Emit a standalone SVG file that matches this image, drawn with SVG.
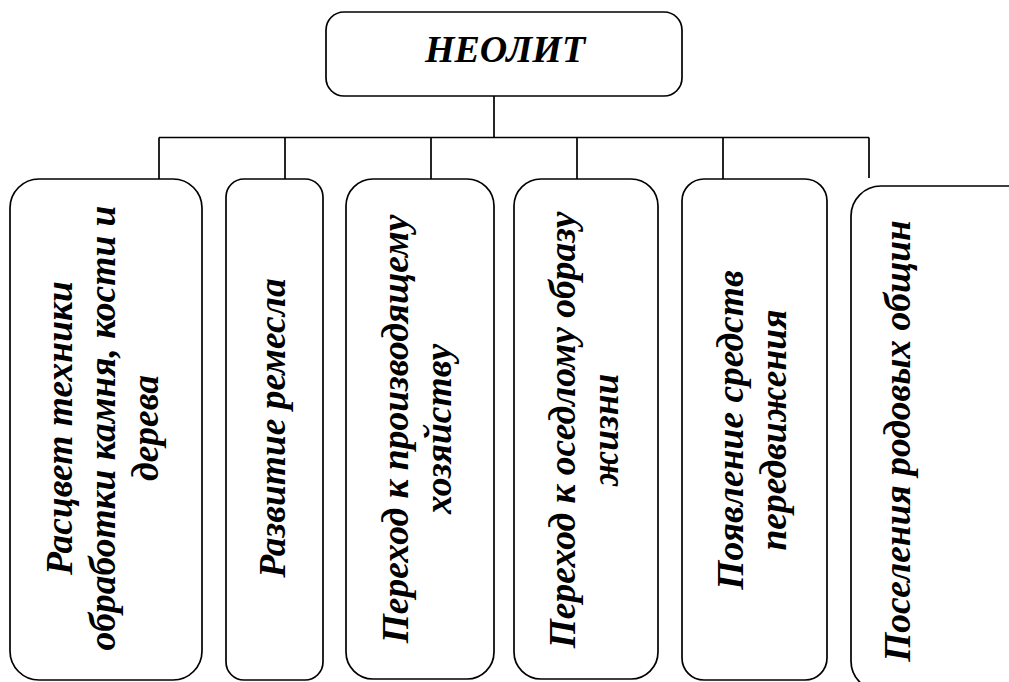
<svg xmlns="http://www.w3.org/2000/svg" width="1009" height="682" viewBox="0 0 1009 682">
<style>
.box{fill:#fff;stroke:#000;stroke-width:1.7}
.t{font-family:"Liberation Serif","Times New Roman",serif;font-weight:bold;font-style:italic;font-size:37.5px;fill:#000;text-anchor:middle}
.title{font-size:38px}
.c{stroke:#000;stroke-width:1.7;fill:none}
</style>
<rect width="1009" height="682" fill="#fff"/>
<g id="connectors">
<path class="c" d="M494 96V137.5M159 137.5H869M159 137.5V179M285 137.5V179M431 137.5V179M577 137.5V179M723 137.5V179M869 137.5V178"/>
</g>
<g id="root">
<rect class="box" x="326" y="12" width="356" height="84" rx="18"/>
<text class="t title" x="505" y="62">НЕОЛИТ</text>
</g>
<g id="n1">
<rect class="box" x="10" y="179" width="192" height="501" rx="29"/>
<text class="t" transform="translate(72,428) rotate(-90)"><tspan x="0" dy="0">Расцвет техники</tspan><tspan x="0" dy="43">обработки камня, кости и</tspan><tspan x="0" dy="43">дерева</tspan></text>
</g>
<g id="n2">
<rect class="box" x="226" y="179" width="97" height="501" rx="18"/>
<text class="t" transform="translate(285,428) rotate(-90)">Развитие ремесла</text>
</g>
<g id="n3">
<rect class="box" x="346" y="179" width="148" height="500" rx="27"/>
<text class="t" transform="translate(408,429) rotate(-90)"><tspan x="0" dy="0">Переход к производящему</tspan><tspan x="0" dy="43">хозяйству</tspan></text>
</g>
<g id="n4">
<rect class="box" x="514" y="179" width="144" height="500" rx="27"/>
<text class="t" transform="translate(575,430) rotate(-90)"><tspan x="0" dy="0">Переход к оседлому образу</tspan><tspan x="0" dy="43">жизни</tspan></text>
</g>
<g id="n5">
<rect class="box" x="682" y="179" width="145" height="501" rx="22"/>
<text class="t" transform="translate(743,430) rotate(-90)"><tspan x="0" dy="0">Появление средств</tspan><tspan x="0" dy="43">передвижения</tspan></text>
</g>
<g id="n6">
<rect class="box" x="851" y="186" width="190" height="505" rx="30"/>
<text class="t" transform="translate(910,441) rotate(-90)">Поселения родовых общин</text>
</g>
</svg>
